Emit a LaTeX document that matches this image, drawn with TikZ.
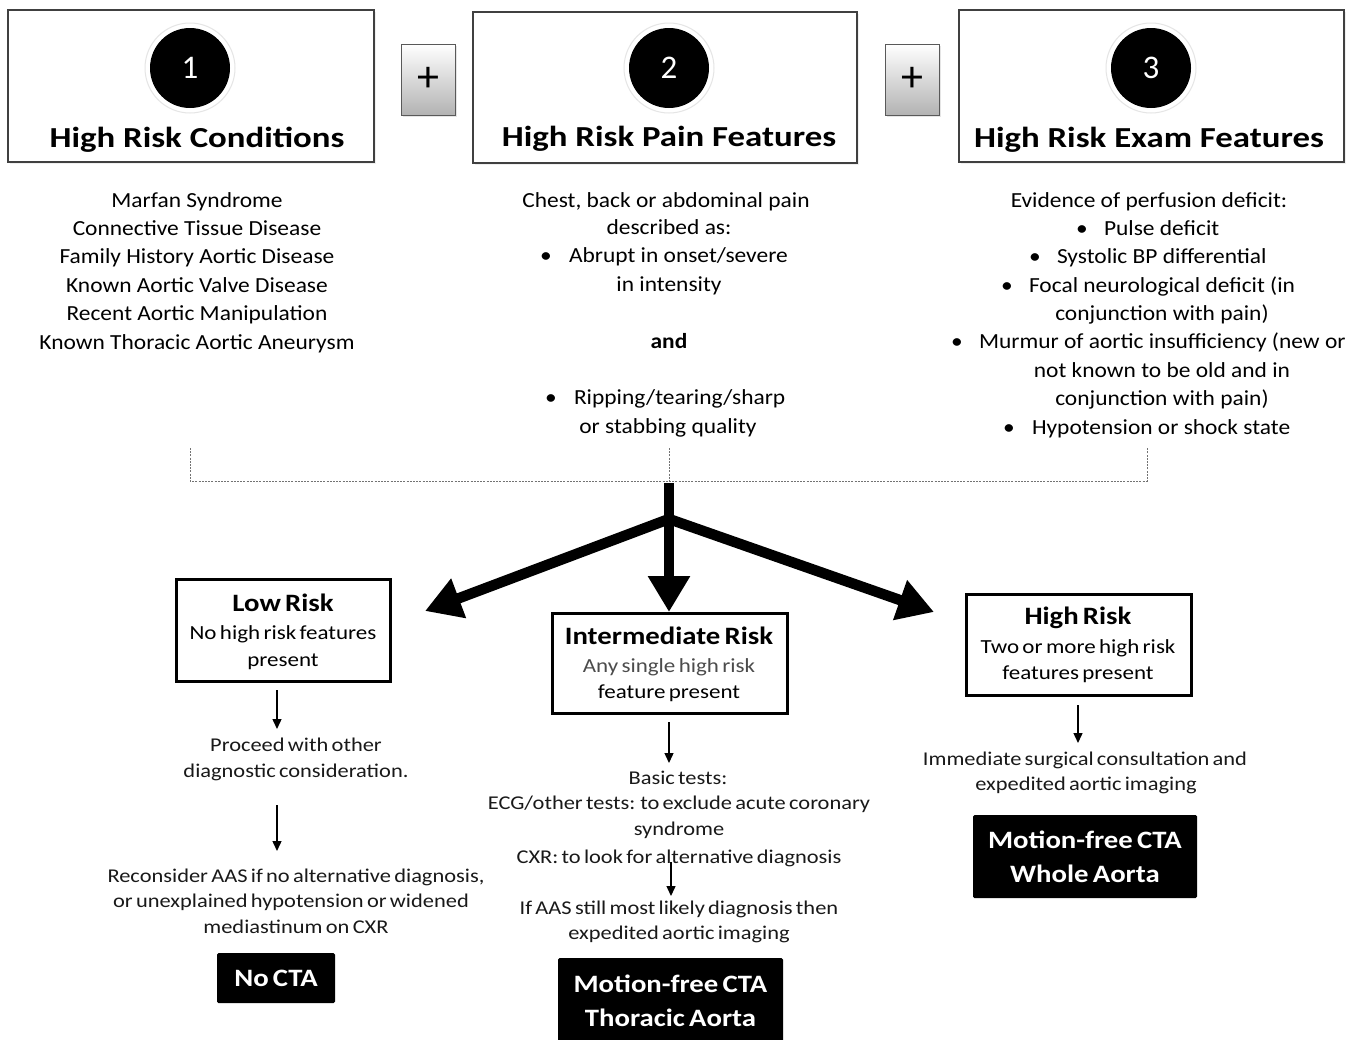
\documentclass[tikz,border=0pt]{standalone}
\usepackage{fontspec}
\setmainfont{Carlito}
\newfontfamily\colf[FakeStretch=1.09]{Carlito}
\newfontfamily\titf[FakeStretch=1.2]{Carlito}
\newfontfamily\lowf[FakeStretch=1.15, WordSpace=0.65]{Carlito}
\usetikzlibrary{arrows.meta,shadows}
\begin{document}
\begin{tikzpicture}[x=1pt,y=-1pt,
  every node/.style={inner sep=0pt, outer sep=0pt},
  topbox/.style={draw=black!75, line width=1.3pt, fill=white, drop shadow={opacity=0.12, shadow xshift=1.5pt, shadow yshift=-1.5pt}},
  plusbox/.style={draw=black!65, line width=1pt, top color=white, bottom color=black!30, drop shadow={opacity=0.2, shadow xshift=1.5pt, shadow yshift=-1.5pt}, font=\fontsize{44}{44}\selectfont},
  halo/.style={circle, fill=white, draw=black!10, line width=1pt, minimum size=90pt},
  numc/.style={circle, fill=black, minimum size=80pt, text=white, font=\fontsize{33}{33}\selectfont},
  ttl/.style={anchor=base, font=\titf\fontsize{29}{31}\selectfont\bfseries},
  ct/.style={anchor=base, font=\colf\fontsize{21.5}{24}\selectfont, text=black},
  ctw/.style={ct, anchor=base west},
  lt/.style={anchor=base, font=\lowf\fontsize{19.5}{22}\selectfont, text=black!90},
  st/.style={anchor=base, font=\lowf\fontsize{20}{22}\selectfont, text=black},
  bt/.style={anchor=base, font=\lowf\fontsize{25}{26}\selectfont\bfseries},
  riskbox/.style={draw=black, line width=3pt, fill=white},
  outbox/.style={fill=black, rounded corners=1.5pt, text=white, align=center, font=\lowf\fontsize{25}{34}\selectfont\bfseries},
  dotline/.style={draw=black!55, line width=0.9pt, dash pattern=on 2pt off 1.2pt},
  bigarrow/.style={line width=10.5pt, -{Triangle[length=36pt,width=40pt]}},
  thinarrow/.style={line width=1.4pt, -{Triangle[length=10pt,width=9pt]}}
]
\useasboundingbox (0,0) rectangle (1363,1039);
\fill[white] (0,0) rectangle (1363,1039);

% top boxes
\node[topbox, minimum width=366pt, minimum height=152pt] (b1) at (191,86) {};
\node[topbox, minimum width=384pt, minimum height=151pt] (b2) at (665,87.5) {};
\node[topbox, minimum width=385pt, minimum height=152pt] (b3) at (1151.5,86) {};
\node[plusbox, minimum width=54pt, minimum height=71pt] (p1) at (428,79.5) {+};
\node[plusbox, minimum width=54pt, minimum height=71pt] (p2) at (912,79.5) {+};

\node[halo] (h1) at (190,68) {};
\node[numc] (n1) at (190,68) {1};
\node[halo] (h2) at (669,68) {};
\node[numc] (n2) at (669,68) {2};
\node[halo] (h3) at (1151,68) {};
\node[numc] (n3) at (1151,68) {3};

\node[ttl] (t1) at (197,147) {High Risk Conditions};
\node[ttl] (t2) at (669,146) {High Risk Pain Features};
\node[ttl] (t3) at (1149,147) {High Risk Exam Features};

% column 1
\foreach \t [count=\i] in {Marfan Syndrome, Connective Tissue Disease, Family History Aortic Disease, Known Aortic Valve Disease, Recent Aortic Manipulation, Known Thoracic Aortic Aneurysm}
  \node[ct] (c1-\i) at (197,{207+28.4*(\i-1)}) {\t};

% column 2
\node[ct] (c2-1) at (666,207) {Chest, back or abdominal pain};
\node[ct] (c2-2) at (669,234) {described as:};
\node[ct] (c2-3b) at (546,262) {•};
\node[ctw] (c2-3) at (569,262) {Abrupt in onset/severe};
\node[ct] (c2-4) at (669,291) {in intensity};
\node[ct, font=\colf\fontsize{21.5}{24}\selectfont\bfseries] (c2-5) at (669,348) {and};
\node[ct] (c2-6b) at (551,404) {•};
\node[ctw] (c2-6) at (574,404) {Ripping/tearing/sharp};
\node[ct] (c2-7) at (668,433) {or stabbing quality};

% column 3
\node[ct] (c3-1) at (1149,207) {Evidence of perfusion deficit:};
\node[ct] (c3-2b) at (1082,235) {•};
\node[ctw] (c3-2) at (1104,235) {Pulse deficit};
\node[ct] (c3-3b) at (1035,263) {•};
\node[ctw] (c3-3) at (1057,263) {Systolic BP differential};
\node[ct] (c3-4b) at (1007,292) {•};
\node[ctw] (c3-4) at (1029,292) {Focal neurological deficit (in};
\node[ct] (c3-5) at (1162,320) {conjunction with pain)};
\node[ct] (c3-6b) at (957,348) {•};
\node[ctw] (c3-6) at (979,348) {Murmur of aortic insufficiency (new or};
\node[ct] (c3-7) at (1162,377) {not known to be old and in};
\node[ct] (c3-8) at (1162,405) {conjunction with pain)};
\node[ct] (c3-9b) at (1009,434) {•};
\node[ctw] (c3-9) at (1032,434) {Hypotension or shock state};

% dotted bracket
\coordinate (d1t) at (190,448);
\coordinate (d2t) at (669,448);
\coordinate (d3t) at (1147,448);
\coordinate (d1b) at (190,481);
\coordinate (d2b) at (669,481);
\coordinate (d3b) at (1147,481);
\draw[dotline] (d1t) -- (d1b) -- (d3b) -- (d3t);
\draw[dotline] (d2t) -- (d2b);

% big arrows
\coordinate (stem) at (669,483);
\coordinate (split) at (669,519);
\coordinate (lowtip) at (425,611);
\coordinate (midtip) at (669,612);
\coordinate (hightip) at (934,612);
\draw[line width=10.5pt] (stem) -- (split);
\draw[bigarrow, line cap=round] (split) -- (lowtip);
\draw[bigarrow] (split) -- (midtip);
\draw[bigarrow, line cap=round] (split) -- (hightip);

% risk boxes
\node[riskbox, minimum width=214pt, minimum height=102pt] (low) at (283,630) {};
\node[riskbox, minimum width=235pt, minimum height=100pt] (mid) at (669.5,663) {};
\node[riskbox, minimum width=225pt, minimum height=101pt] (high) at (1078.5,644.5) {};

\node[bt] (low-1) at (283,611) {Low Risk};
\node[st] (low-2) at (283,639) {No high risk features};
\node[st] (low-3) at (283,666) {present};
\node[bt] (mid-1) at (669,644) {Intermediate Risk};
\node[st, text=black!70] (mid-2) at (669,672) {Any single high risk};
\node[st] (mid-3) at (669,698) {feature present};
\node[bt] (high-1) at (1078,624) {High Risk};
\node[st] (high-2) at (1078,653) {Two or more high risk};
\node[st] (high-3) at (1078,679) {features present};

% low path
\node[lt] (lp1) at (296,751) {Proceed with other};
\node[lt] (lp2) at (296,777) {diagnostic consideration.};
\node[lt] (lp3) at (296,882) {Reconsider AAS if no alternative diagnosis,};
\node[lt] (lp4) at (291,907) {or unexplained hypotension or widened};
\node[lt] (lp5) at (296,933) {mediastinum on CXR};
\node[outbox, minimum width=118pt, minimum height=50pt] (nocta) at (276,978) {No CTA};
\coordinate (la1s) at (277,690);
\coordinate (la1e) at (277,729);
\coordinate (la2s) at (277,805);
\coordinate (la2e) at (277,851);
\draw[thinarrow] (la1s) -- (la1e);
\draw[thinarrow] (la2s) -- (la2e);

% intermediate path
\node[lt] (mp1) at (678,784) {Basic tests:};
\node[lt] (mp2) at (679,809) {ECG/other tests: to exclude acute coronary};
\node[lt] (mp3) at (679,835) {syndrome};
\node[lt] (mp4) at (679,863) {CXR: to look for alternative diagnosis};
\node[lt] (mp5) at (679,914) {If AAS still most likely diagnosis then};
\node[lt] (mp6) at (679,939) {expedited aortic imaging};
\node[outbox, minimum width=225pt, minimum height=86pt] (thor) at (670.5,1001) {Motion-free CTA\\Thoracic Aorta};
\coordinate (ma1s) at (669,722);
\coordinate (ma1e) at (669,763);
\coordinate (ma2s) at (671,862);
\coordinate (ma2e) at (671,896);
\draw[thinarrow] (ma1s) -- (ma1e);
\draw[thinarrow] (ma2s) -- (ma2e);

% high path
\node[lt] (hp1) at (1085,765) {Immediate surgical consultation and};
\node[lt] (hp2) at (1086,790) {expedited aortic imaging};
\node[outbox, minimum width=224pt, minimum height=83pt] (whole) at (1085,856.5) {Motion-free CTA\\Whole Aorta};
\coordinate (ha1s) at (1078,705);
\coordinate (ha1e) at (1078,743);
\draw[thinarrow] (ha1s) -- (ha1e);
\end{tikzpicture}
\end{document}
